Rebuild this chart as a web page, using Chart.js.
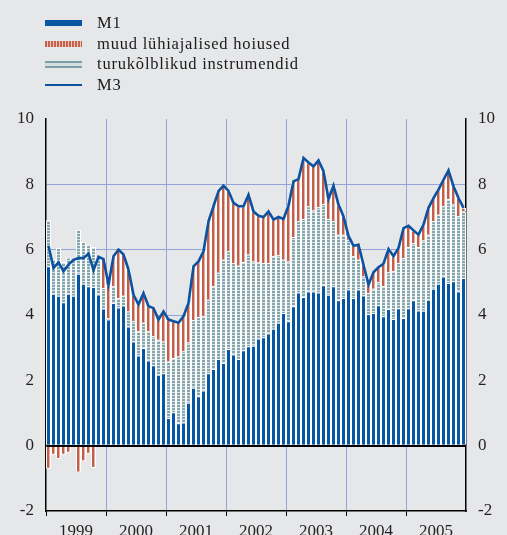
<!DOCTYPE html>
<html>
<head>
<meta charset="utf-8">
<script src="https://cdn.jsdelivr.net/npm/chart.js@4/dist/chart.umd.min.js"></script>
<style>
  html, body { margin: 0; padding: 0; background: #e6e7e9; }
  #wrap { position: relative; width: 507px; height: 535px; overflow: hidden; }
  canvas { position: absolute; left: 0; top: 0; }
  .lg { position: absolute; left: 45px; font-family: "Liberation Serif", "Times New Roman", serif; font-size: 16.5px; letter-spacing: 0.8px; color: #1a1a1a; }
  .lg .sw { position: absolute; left: 0; width: 37px; }
  .lg .tx { position: absolute; left: 52px; top: -10px; white-space: nowrap; line-height: 20px; }
</style>
</head>
<body>
<div id="wrap">
  <canvas id="c" width="507" height="535"></canvas>
  <div class="lg" style="top:23px"><div class="sw" style="top:-3px;height:6px;background:#0756a4"></div><div class="tx">M1</div></div>
  <div class="lg" style="top:44px"><div class="sw" style="top:-3px;height:6px;background:repeating-linear-gradient(90deg,#c4614d 0 2px,#ecc6bb 2px 3px)"></div><div class="tx">muud lühiajalised hoiused</div></div>
  <div class="lg" style="top:64px"><div class="sw" style="top:-3px;height:7px;background:linear-gradient(180deg,#7c9ea8 0 2px,#d3dfe1 2px 5px,#7c9ea8 5px 7px)"></div><div class="tx">turukõlblikud instrumendid</div></div>
  <div class="lg" style="top:85px"><div class="sw" style="top:-1px;height:2px;background:#0b52a0"></div><div class="tx">M3</div></div>
</div>
<script>
const years = ['1999', '2000', '2001', '2002', '2003', '2004', '2005'];
const months = [];
years.forEach(y => { for (let m = 1; m <= 12; m++) months.push(y + '-' + (m < 10 ? '0' + m : m)); });

const m1 = [
  5.49, 4.65, 4.59, 4.39, 4.65, 4.59, 5.26, 4.96, 4.88, 4.86, 4.63, 4.20,
  3.86, 4.37, 4.23, 4.29, 3.65, 3.19, 2.76, 2.99, 2.61, 2.46, 2.17, 2.22,
  0.85, 1.02, 0.69, 0.71, 1.31, 1.77, 1.51, 1.69, 2.22, 2.35, 2.65, 2.53,
  2.96, 2.79, 2.65, 2.92, 3.04, 3.06, 3.28, 3.32, 3.43, 3.58, 3.76, 4.06,
  3.81, 4.27, 4.69, 4.55, 4.72, 4.72, 4.69, 4.91, 4.62, 4.88, 4.45, 4.52,
  4.78, 4.52, 4.78, 4.60, 4.03, 4.06, 4.30, 3.96, 4.18, 3.88, 4.21, 3.91,
  4.21, 4.45, 4.14, 4.13, 4.47, 4.80, 4.96, 5.18, 4.98, 5.03, 4.72, 5.13
];
const muud = [
  -0.71, -0.28, -0.41, -0.28, -0.22, 0.00, -0.82, -0.48, -0.25, -0.68, 0.00, 0.88,
  1.02, 0.92, 1.48, 1.26, 1.28, 0.81, 0.82, 0.91, 0.77, 0.86, 0.62, 0.92,
  1.28, 1.13, 1.03, 1.07, 1.21, 1.65, 1.70, 1.97, 2.40, 2.45, 2.50, 2.27,
  1.85, 1.84, 1.82, 1.71, 1.83, 1.53, 1.43, 1.41, 1.58, 1.12, 1.17, 1.25,
  1.71, 1.70, 1.29, 1.87, 1.34, 1.35, 1.43, 1.00, 0.61, 1.09, 0.92, 0.56,
  0.12, 0.32, 0.46, 0.36, 0.26, 0.51, 0.46, 0.69, 0.71, 0.46, 0.46, 0.92,
  0.65, 0.39, 0.38, 0.49, 0.82, 0.71, 0.77, 0.81, 0.88, 0.56, 0.56, 0.11
];
const turu = [
  1.41, 1.07, 1.46, 1.23, 1.11, 1.10, 1.35, 1.29, 1.27, 1.22, 1.15, 0.63,
  0.05, 0.51, 0.29, 0.30, 0.46, 0.62, 0.74, 0.77, 0.89, 0.89, 1.07, 0.97,
  1.73, 1.66, 2.04, 2.18, 1.85, 2.07, 2.43, 2.29, 2.25, 2.53, 2.64, 3.16,
  2.99, 2.80, 2.86, 2.70, 2.81, 2.58, 2.33, 2.27, 2.16, 2.22, 2.07, 1.63,
  1.83, 2.12, 2.18, 2.39, 2.61, 2.48, 2.61, 2.49, 2.32, 1.99, 2.01, 1.94,
  1.52, 1.28, 0.91, 0.58, 0.64, 0.74, 0.70, 0.92, 1.13, 1.46, 1.38, 1.83,
  1.87, 1.75, 1.94, 2.15, 1.99, 2.07, 2.11, 2.15, 2.57, 2.35, 2.30, 2.04
];
const m3 = [
  6.12, 5.44, 5.61, 5.34, 5.54, 5.69, 5.74, 5.74, 5.88, 5.37, 5.78, 5.71,
  4.93, 5.80, 6.00, 5.85, 5.39, 4.62, 4.32, 4.67, 4.27, 4.21, 3.86, 4.11,
  3.86, 3.81, 3.76, 3.96, 4.37, 5.49, 5.64, 5.95, 6.87, 7.33, 7.79, 7.96,
  7.80, 7.43, 7.33, 7.33, 7.68, 7.17, 7.04, 7.00, 7.17, 6.92, 7.00, 6.94,
  7.35, 8.09, 8.16, 8.81, 8.67, 8.55, 8.73, 8.40, 7.55, 7.96, 7.38, 7.02,
  6.42, 6.12, 6.15, 5.54, 4.93, 5.31, 5.46, 5.57, 6.02, 5.80, 6.05, 6.66,
  6.73, 6.59, 6.46, 6.77, 7.28, 7.58, 7.84, 8.14, 8.43, 7.94, 7.58, 7.28
];
const yTicks = [-2, 0, 2, 4, 6, 8, 10];

function makePattern(w, h, painter) {
  const pc = document.createElement('canvas');
  pc.width = w; pc.height = h;
  const g = pc.getContext('2d');
  painter(g);
  return document.getElementById('c').getContext('2d').createPattern(pc, 'repeat');
}
const redPattern = makePattern(5, 1, g => {
  const cols = ['#e4ab9c', '#c96a56', '#c25e4b', '#c25e4b', '#e6b1a3'];
  cols.forEach((c, i) => { g.fillStyle = c; g.fillRect(i, 0, 1, 1); });
});
const tealPattern = makePattern(5, 3, g => {
  g.fillStyle = '#86a6ae'; g.fillRect(0, 0, 5, 2);
  g.fillStyle = '#d6e1e3'; g.fillRect(0, 2, 5, 1);
});

const FONT = { family: "'Liberation Serif', 'Times New Roman', serif", size: 17 };
const GRID_BLUE = '#95a3d9';

const barCommon = {
  type: 'bar', order: 1, stack: 'bars',
  barPercentage: 1, categoryPercentage: 1, inflateAmount: 0,
  borderColor: '#ffffff', borderWidth: 1,
  borderSkipped: 'start'
};

new Chart(document.getElementById('c'), {
  data: {
    labels: months,
    datasets: [
      { type: 'line', label: 'M3', data: m3, order: 0, stack: 'line',
        borderColor: '#0b52a0', borderWidth: 2.6, pointRadius: 0, tension: 0, fill: false },
      Object.assign({}, barCommon, { label: 'M1', data: m1, backgroundColor: '#0756a4' }),
      Object.assign({}, barCommon, { label: 'turukõlblikud instrumendid', data: turu, backgroundColor: tealPattern }),
      Object.assign({}, barCommon, { label: 'muud lühiajalised hoiused', data: muud, backgroundColor: redPattern })
    ]
  },
  options: {
    responsive: false,
    animation: false,
    events: [],
    layout: { padding: { top: 119, left: 0, right: 0, bottom: 0 } },
    plugins: { legend: { display: false }, tooltip: { enabled: false } },
    scales: {
      x: {
        type: 'category', stacked: true, offset: true,
        grid: {
          offset: true, drawOnChartArea: true, drawTicks: true, tickLength: 5,
          color: ctx => (ctx.index % 12 === 0 && ctx.index > 0 && ctx.index < 84) ? GRID_BLUE : 'rgba(0,0,0,0)',
          tickColor: ctx => (ctx.index % 12 === 0) ? '#000000' : 'rgba(0,0,0,0)',
          lineWidth: 1, tickWidth: 1
        },
        border: { display: true, color: '#000000', width: 1.5 },
        ticks: {
          autoSkip: false, maxRotation: 0, minRotation: 0, padding: 5, labelOffset: -2.5,
          color: '#231f20', font: FONT,
          callback: (v, i) => (i % 12 === 6 ? years[Math.floor(i / 12)] : '')
        },
        afterFit: s => { s.height = 24; }
      },
      y: {
        stacked: true, position: 'left', min: -2, max: 10,
        afterBuildTicks: s => { s.ticks = yTicks.map(v => ({ value: v })); },
        grid: {
          drawTicks: false,
          color: ctx => {
            const v = ctx.tick ? ctx.tick.value : null;
            if (v === 0) return '#000000';
            if (v === 10 || v === -2) return 'rgba(0,0,0,0)';
            return GRID_BLUE;
          },
          lineWidth: ctx => (ctx.tick && ctx.tick.value === 0) ? 2 : 1
        },
        border: { display: true, color: '#000000', width: 1.5 },
        ticks: { padding: 12, color: '#231f20', font: FONT },
        afterFit: s => { s.width = 46; }
      },
      y2: {
        position: 'right', min: -2, max: 10,
        afterBuildTicks: s => { s.ticks = yTicks.map(v => ({ value: v })); },
        grid: { drawOnChartArea: false, drawTicks: false },
        border: { display: true, color: '#000000', width: 1.5 },
        ticks: { padding: 12, color: '#231f20', font: FONT },
        afterFit: s => { s.width = 41; }
      }
    }
  }
});
</script>
</body>
</html>
